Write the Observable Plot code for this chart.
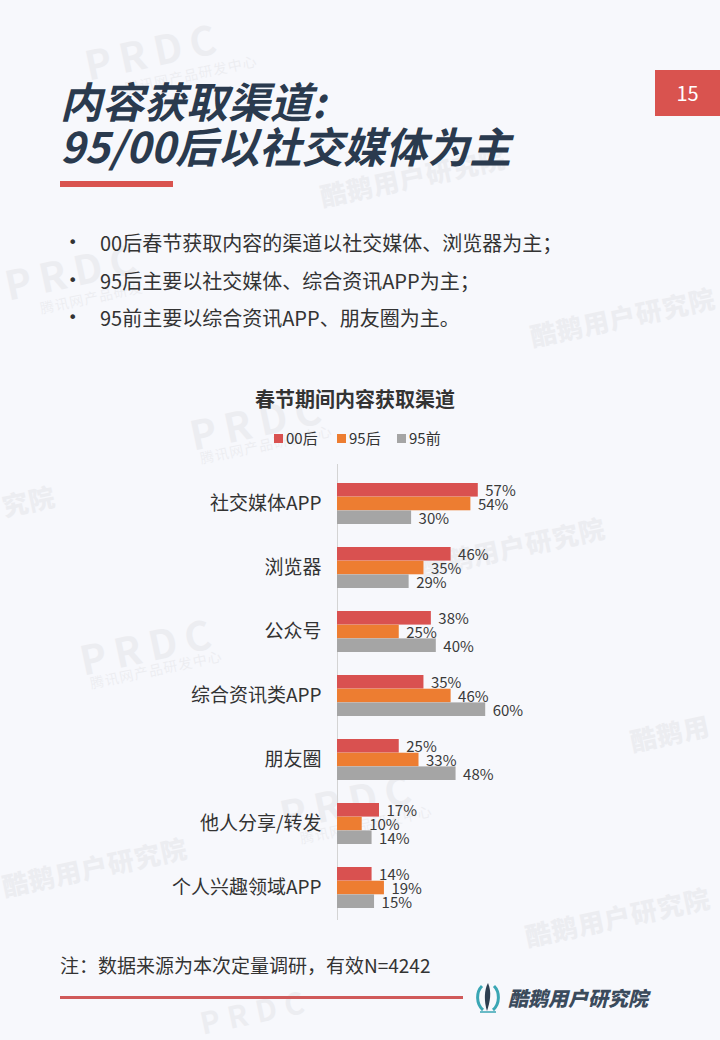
<!DOCTYPE html>
<html>
<head>
<meta charset="utf-8">
<script src="https://cdn.jsdelivr.net/npm/d3@7"></script>
<script src="https://cdn.jsdelivr.net/npm/@observablehq/plot@0.6"></script>
<style>
  html, body { margin: 0; padding: 0; }
  body { width: 720px; height: 1040px; background: #f7f8fc; position: relative; overflow: hidden;
         font-family: "Noto Sans CJK SC", "Noto Sans", sans-serif; color: #333; }
  .abs { position: absolute; white-space: nowrap; }
  .wm { position: absolute; white-space: nowrap; color: #000; opacity: 0.04; transform-origin: left center; }
</style>
</head>
<body>
<div id="wm"></div>
<div class="abs" id="title1" style="left:60px; top:77px; font-size:42px; line-height:45px; font-weight:700; font-style:italic; color:#2a3a4e;"></div>
<div class="abs" id="title2" style="left:60px; top:122px; font-size:42px; line-height:45px; font-weight:700; font-style:italic; color:#2a3a4e;"></div>
<div class="abs" style="left:60px; top:181px; width:113px; height:6px; background:#d9534f;"></div>
<div class="abs" id="pageno" style="left:655px; top:70px; width:65px; height:46px; background:#d9534f; color:#fff; font-size:20px; line-height:46px; text-align:center;"></div>
<div id="bullets"></div>
<div class="abs" id="ctitle" style="left:0; width:710px; top:384px; text-align:center; font-size:20px; font-weight:700; color:#333;"></div>
<div id="legend"></div>
<div class="abs" id="chart" style="left:0; top:450px;"></div>
<div class="abs" id="note" style="left:60px; top:951px; font-size:19px; color:#333;"></div>
<div class="abs" style="left:60px; top:996px; width:403px; height:3px; background:#d05a5a;"></div>
<svg class="abs" style="left:476px; top:980px;" width="24" height="34" viewBox="0 0 24 34">
  <path d="M6 6 C0 12 0 24 7 30" fill="none" stroke="#3aa6b4" stroke-width="3"/>
  <path d="M18 6 C24 12 24 24 17 30" fill="none" stroke="#3aa6b4" stroke-width="3"/>
  <path d="M12 3 C8 10 8 22 11 31 C14 22 16 12 12 3 Z" fill="#2d3e50"/>
  <path d="M4 32 L20 32" stroke="#3aa6b4" stroke-width="1.5"/>
</svg>
<div class="abs" id="logo" style="left:508px; top:983px; font-size:20px; font-weight:900; font-style:italic; color:#3b4b5c;"></div>

<script>
// ---------- data ----------
const titleLines = ["内容获取渠道:", "95/00后以社交媒体为主"];
const pageNumber = "15";
const bulletTexts = [
  "00后春节获取内容的渠道以社交媒体、浏览器为主；",
  "95后主要以社交媒体、综合资讯APP为主；",
  "95前主要以综合资讯APP、朋友圈为主。"
];
const chartTitle = "春节期间内容获取渠道";
const categories = ["社交媒体APP", "浏览器", "公众号", "综合资讯类APP", "朋友圈", "他人分享/转发", "个人兴趣领域APP"];
const seriesNames = ["00后", "95后", "95前"];
const seriesColors = ["#d95150", "#ed7d31", "#a5a5a5"];
const values00 = [57, 46, 38, 35, 25, 17, 14];
const values95 = [54, 35, 25, 46, 33, 10, 19];
const values95q = [30, 29, 40, 60, 48, 14, 15];
const noteText = "注：数据来源为本次定量调研，有效N=4242";
const logoText = "酷鹅用户研究院";

// ---------- static text ----------
document.getElementById("title1").textContent = titleLines[0];
document.getElementById("title2").textContent = titleLines[1];
document.getElementById("pageno").textContent = pageNumber;
document.getElementById("ctitle").textContent = chartTitle;
document.getElementById("note").textContent = noteText;
document.getElementById("logo").textContent = logoText;

const bulletTops = [229, 267, 304];
const bl = document.getElementById("bullets");
bulletTexts.forEach((t, i) => {
  const dot = document.createElement("div");
  dot.className = "abs";
  dot.style.cssText = `left:68px; top:${bulletTops[i]}px; font-family:'DejaVu Sans',sans-serif; font-size:16px; line-height:28px; color:#333;`;
  dot.textContent = "•";
  bl.appendChild(dot);
  const d = document.createElement("div");
  d.className = "abs";
  d.style.cssText = `left:100px; top:${bulletTops[i]}px; font-size:20px; line-height:28px; color:#333;`;
  d.textContent = t;
  bl.appendChild(d);
});

// legend
const lg = document.getElementById("legend");
const legendX = [274, 337, 397];
seriesNames.forEach((s, i) => {
  const sw = document.createElement("div");
  sw.className = "abs";
  sw.style.cssText = `left:${legendX[i]}px; top:434px; width:9px; height:9px; background:${seriesColors[i]};`;
  lg.appendChild(sw);
  const tx = document.createElement("div");
  tx.className = "abs";
  tx.style.cssText = `left:${legendX[i] + 12}px; top:427px; font-size:15px; line-height:22px; color:#333;`;
  tx.textContent = s;
  lg.appendChild(tx);
});

// watermarks (faint decoration)
const wm = document.getElementById("wm");
const wmItems = [
  ["PRDC", 85, 55, 40, 700, -12], ["腾讯网产品研发中心", 125, 85, 14, 400, -12],
  ["酷鹅用户研究院", 320, 190, 26, 900, -12],
  ["PRDC", 5, 275, 40, 700, -12], ["腾讯网产品研发", 40, 305, 14, 400, -12],
  ["酷鹅用户研究院", 530, 330, 26, 900, -12],
  ["PRDC", 190, 425, 40, 700, -12], ["腾讯网产品研发中心", 200, 455, 14, 400, -12],
  ["究院", 2, 500, 26, 900, -12],
  ["酷鹅用户研究院", 420, 560, 26, 900, -12],
  ["PRDC", 80, 650, 40, 700, -12], ["腾讯网产品研发中心", 90, 680, 14, 400, -12],
  ["酷鹅用", 630, 735, 26, 900, -12],
  ["PRDC", 280, 805, 40, 700, -12], ["腾讯网产品研发中心", 300, 835, 14, 400, -12],
  ["酷鹅用户研究院", 2, 880, 26, 900, -12],
  ["酷鹅用户研究院", 525, 930, 26, 900, -12],
  ["PRDC", 200, 1015, 30, 700, -12]
];
wmItems.forEach(([t, x, y, fs, fw, r]) => {
  const d = document.createElement("div");
  d.className = "wm";
  d.style.cssText += `left:${x}px; top:${y - fs / 2}px; font-size:${fs}px; font-weight:${fw}; transform:rotate(${r}deg); letter-spacing:${fs > 28 ? 8 : 1}px;`;
  d.textContent = t;
  wm.appendChild(d);
});

// ---------- chart ----------
const table = categories.map((c, i) => ({cat: c, v00: values00[i], v95: values95[i], v95q: values95q[i]}));
const yRange = [31, 460];
const padInner = 0.364;
const step = (yRange[1] - yRange[0]) / (categories.length - padInner);
const bw = step * (1 - padInner);
const third = bw / 3;
const keys = ["v00", "v95", "v95q"];

const marks = [Plot.ruleX([0], {stroke: "#d4d4d4", strokeWidth: 1})];
keys.forEach((k, i) => {
  marks.push(Plot.barX(table, {
    x: k, y: "cat", fill: seriesColors[i],
    insetTop: i * third, insetBottom: (2 - i) * third
  }));
});
keys.forEach((k, i) => {
  marks.push(Plot.text(table, {
    x: k, y: "cat", text: d => d[k] + "%",
    dx: 7, dy: (i - 1) * third + 1, textAnchor: "start",
    fontSize: 15, fill: "#3a3a3a"
  }));
});
marks.push(Plot.axisY({tickSize: 0, tickPadding: 16, fontSize: 19, label: null, fill: "#333"}));

const chart = Plot.plot({
  width: 720,
  height: 480,
  marginTop: 14,
  marginBottom: 10,
  marginLeft: 337,
  marginRight: 136,
  style: {background: "transparent", fontFamily: "'Noto Sans CJK SC', sans-serif", color: "#333", overflow: "visible"},
  x: {domain: [0, 100], axis: null},
  y: {domain: categories, range: yRange, paddingInner: padInner, paddingOuter: 0, axis: null},
  marks
});
document.getElementById("chart").appendChild(chart);
</script>
</body>
</html>
